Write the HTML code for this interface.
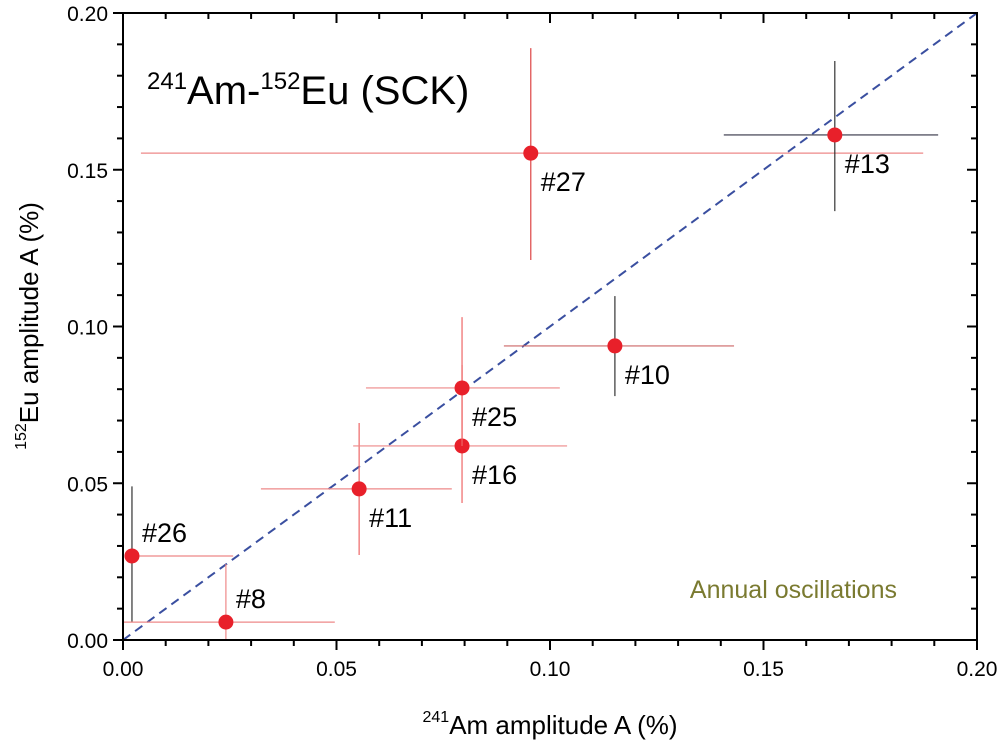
<!DOCTYPE html>
<html><head><meta charset="utf-8"><style>
body{margin:0;background:#fff;}
svg{display:block;font-family:"Liberation Sans",Arial,sans-serif;}
</style></head><body>
<svg id="chart" width="1004" height="745" viewBox="0 0 1004 745">
<g id="grid"></g>
<g id="marks"></g>
<rect x="123" y="13" width="854" height="627" fill="none" stroke="#000" stroke-width="2"/>
<text x="147" y="104" font-size="40"><tspan font-size="24" dy="-15">241</tspan><tspan dy="15">Am-</tspan><tspan font-size="24" dy="-15">152</tspan><tspan dy="15">Eu (SCK)</tspan></text>
<text x="897" y="598" font-size="25" fill="#7a7a30" text-anchor="end">Annual oscillations</text>
<text x="550" y="734" font-size="26" text-anchor="middle"><tspan font-size="16" dy="-12">241</tspan><tspan dy="12">Am amplitude A (%)</tspan></text>
<text transform="translate(38,326) rotate(-90)" font-size="26" text-anchor="middle"><tspan font-size="16" dy="-12">152</tspan><tspan dy="12">Eu amplitude A (%)</tspan></text>
</svg>
<script>
const labels=["#26","#8","#11","#16","#25","#10","#27","#13"];
const xVals=[0.0021,0.0241,0.0553,0.0794,0.0794,0.1152,0.0955,0.1667];
const yVals=[0.0268,0.0057,0.0482,0.0619,0.0804,0.0938,0.1553,0.1611];
const xLo=[0.0008,0.0,0.0323,0.0539,0.0569,0.0892,0.0042,0.1407];
const xHi=[0.0258,0.0496,0.077,0.104,0.1023,0.1431,0.1874,0.1909];
const yLo=[0.0057,0.0,0.0271,0.0437,0.0619,0.0778,0.1212,0.1368];
const yHi=[0.049,0.0242,0.0692,0.0877,0.103,0.1097,0.1888,0.1847];
const ticks=[0,0.05,0.1,0.15,0.2];
const tickLabels=["0.00","0.05","0.10","0.15","0.20"];
const vColors=["#333","#e88","#e66","#e66","#e66","#333","#d44","#333"];
const hColors=["#e88","#e88","#e88","#e88","#e88","#c66","#e88","#334"];
const X=v=>123+v/0.2*854, Y=v=>640-v/0.2*627;
const NS="http://www.w3.org/2000/svg";
const g=document.getElementById('grid'), m=document.getElementById('marks');
function mk(p,tag,a){const e=document.createElementNS(NS,tag);for(const k in a)e.setAttribute(k,a[k]);p.appendChild(e);return e;}
for(let i=0;i<=20;i++){const v=i*0.01,len=i%5?6:10;
 let e=mk(g,'line',{x1:X(v),x2:X(v),y1:640,y2:640+len,stroke:'#000','stroke-width':2});
 
 
 e=mk(g,'line',{x1:X(v),x2:X(v),y1:13,y2:13+len,stroke:'#000','stroke-width':2});
 
 
 e=mk(g,'line',{x1:123,x2:123-len,y1:Y(v),y2:Y(v),stroke:'#000','stroke-width':2});
 
 
 e=mk(g,'line',{x1:977,x2:977-len,y1:Y(v),y2:Y(v),stroke:'#000','stroke-width':2});
 
 }
ticks.forEach((v,i)=>{
 let t=mk(g,'text',{x:X(v),y:676,'font-size':21,'text-anchor':'middle'});t.textContent=tickLabels[i];
 
 
 t=mk(g,'text',{x:108,y:Y(v)+8,'font-size':21,'text-anchor':'end'});t.textContent=tickLabels[i];
 
 });
let d=mk(m,'line',{x1:X(0),y1:Y(0),x2:X(0.2),y2:Y(0.2),stroke:'#3a4fa0','stroke-width':2,'stroke-dasharray':'9,6'});


labels.forEach((l,i)=>{
 let e=mk(m,'line',{x1:X(xLo[i]),x2:X(xHi[i]),y1:Y(yVals[i]),y2:Y(yVals[i]),stroke:hColors[i],'stroke-width':1.2});
 
 
 e=mk(m,'line',{x1:X(xVals[i]),x2:X(xVals[i]),y1:Y(yLo[i]),y2:Y(yHi[i]),stroke:vColors[i],'stroke-width':1.2});
 
 
 e=mk(m,'circle',{cx:X(xVals[i]),cy:Y(yVals[i]),r:7.5,fill:'#e8202a'});
 
 
 e=mk(m,'text',{x:X(xVals[i])+10,y:Y(yVals[i])+(i==0||i==1?-14:38),'font-size':27});
 e.textContent=l;
 
 
});
</script>
</body></html>
